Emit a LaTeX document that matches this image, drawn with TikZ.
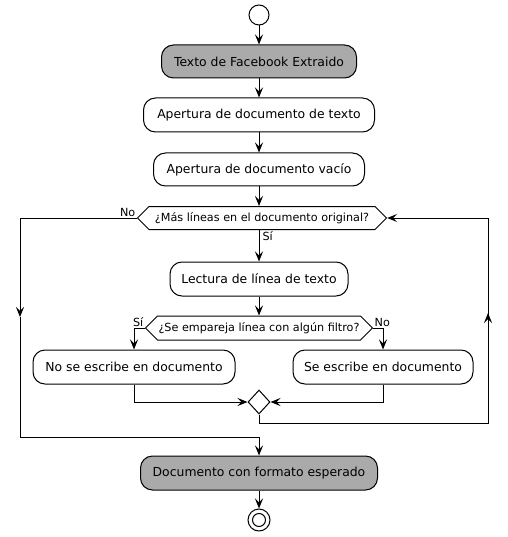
\documentclass[tikz,border=0pt]{standalone}
\usepackage{fontspec}
\setmainfont{DejaVu Sans}
\usetikzlibrary{arrows.meta,shapes.geometric,shapes.symbols}
\definecolor{boxgray}{HTML}{AAAAAA}
\tikzset{% define the styles of the activity diagram
  act/.style={draw, rounded corners=12pt, minimum height=34pt, inner sep=0pt,
    font=\fontsize{12.4}{14}\selectfont},
  actgray/.style={act, fill=boxgray},
  ask/.style={draw, shape=signal, signal to=west and east, signal pointer angle=90,
    inner sep=0pt, font=\fontsize{11.2}{13}\selectfont},
  arr/.style={-{Stealth[length=10pt,width=8pt,inset=4pt]}},
  lbl/.style={font=\fontsize{11.2}{13}\selectfont, inner sep=1pt}
}

\begin{document}
\begin{tikzpicture}[x=1pt, y=-1pt, line width=1pt]
\useasboundingbox (0,0) rectangle (507,537);
% coordinates to be reused
\coordinate (L1) at (20,218);
\coordinate (L2) at (20,317);
\coordinate (L3) at (20,437);
\coordinate (R1) at (488,423);
\coordinate (R2) at (488,313);
\coordinate (R3) at (488,218);

% draw the nodes
\node [circle, draw, minimum size=20pt, inner sep=0pt] (start) at (259,15) {};
\node [actgray, minimum width=195pt, minimum height=33pt] (fb) at (259,61.5) {Texto de Facebook Extraido};
\node [act, minimum width=231pt] (open) at (259,115) {Apertura de documento de texto};
\node [act, minimum width=211pt, minimum height=33pt] (empty) at (259,169.5) {Apertura de documento vacío};
\node [ask, minimum width=249pt, minimum height=23pt] (more) at (262,218) {¿Más líneas en el documento original?};
\node [act, minimum width=178pt] (read) at (259,279) {Lectura de línea de texto};
\node [ask, minimum width=227pt, minimum height=24pt] (match) at (259,328) {¿Se empareja línea con algún filtro?};
\node [act, minimum width=202pt] (skip) at (134,367) {No se escribe en documento};
\node [act, minimum width=180pt] (write) at (383,367) {Se escribe en documento};
\node [diamond, draw, minimum width=22pt, minimum height=24pt, inner sep=0pt] (merge) at (259,402) {};
\node [actgray, minimum width=237pt] (done) at (259,473) {Documento con formato esperado};
\node [circle, draw, minimum size=22pt, inner sep=0pt] (stop) at (259,520) {};
\node [circle, draw, minimum size=13pt, inner sep=0pt] (stopin) at (stop) {};

% draw the connectors
\draw [arr] (start) -- (fb);
\draw [arr] (fb) -- (open);
\draw [arr] (open) -- (empty);
\draw [arr] (empty) -- (empty |- more.north);
\draw [arr] (read |- more.south) -- (read);
\node [lbl, anchor=north west] (yes1) at ([xshift=2pt]read |- more.south) {Sí};
\draw [arr] (read) -- (read |- match.north);
\draw [arr] (match.west) -| (skip);
\draw [arr] (match.east) -| (write);
\node [lbl, anchor=south east] (yes2) at (match.west) {Sí};
\node [lbl, anchor=south west] (no2) at (match.east) {No};
\draw [arr] (skip) |- (merge);
\draw [arr] (write) |- (merge);
\draw [arr] (done) -- (stop);

% loop back and way out
\draw (merge) |- (R1) -- (R2);
\draw [arr] (R1) -- (R2);
\draw [arr] (R2) -- (R3) -- (more.east);
\draw (more.west) -- (L1);
\node [lbl, anchor=south east] (no1) at (more.west) {No};
\draw [arr] (L1) -- (L2);
\draw [arr] (L2) -- (L3) -| (done);
\end{tikzpicture}
\end{document}
